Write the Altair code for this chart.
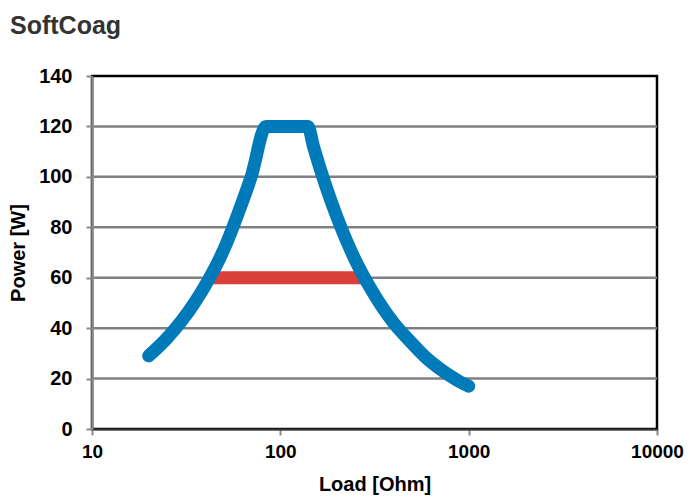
import altair as alt
import pandas as pd

# Blue power curve (Load in Ohm, Power in W)
load = [20, 25, 30, 35, 40, 50, 60, 70, 84, 140, 150, 175, 200, 250, 300, 400, 500, 600, 700, 800, 900, 1000]
power = [29, 36, 43, 50, 57, 71, 86, 100, 120, 120, 112, 96, 84, 67, 56, 42, 34, 28, 24, 21, 18.7, 17]

# Red horizontal segment
red_load = [42, 285]
red_power = [60, 60]

grid_values = [20, 40, 60, 80, 100, 120]
x_ticks = [10, 100, 1000, 10000]
y_ticks = [0, 20, 40, 60, 80, 100, 120, 140]

FONT = "Liberation Sans"

blue_df = pd.DataFrame({"load": load, "power": power, "order": list(range(len(load)))})
red_df = pd.DataFrame({"load": red_load, "power": red_power})
grid_df = pd.DataFrame({"v": grid_values})

xscale = alt.Scale(type="log", domain=[10, 10000])
yscale = alt.Scale(domain=[0, 140])

xaxis = alt.Axis(values=x_ticks, format="d", title="Load [Ohm]", grid=False, labelFlush=False,
                 labelFontSize=19,
                 domainColor="#333333", domainWidth=2, tickColor="#888888", tickWidth=2,
                 tickSize=6, labelPadding=7, titlePadding=13, zindex=1)
yaxis = alt.Axis(values=y_ticks, title="Power [W]", grid=False, labelFlush=False,
                 labelFontSize=20,
                 domainColor="#888888", domainWidth=2.5, tickColor="#888888", tickWidth=2,
                 tickSize=6, labelPadding=14, titlePadding=10, zindex=1)

grid = alt.Chart(grid_df).mark_rule(color="#808080", strokeWidth=2.5).encode(
    y=alt.Y("v:Q", scale=yscale, axis=yaxis)
)

red = alt.Chart(red_df).mark_line(color="#d9403a", strokeWidth=13, strokeCap="butt").encode(
    x=alt.X("load:Q", scale=xscale, axis=xaxis),
    y=alt.Y("power:Q", scale=yscale, axis=yaxis),
)

blue = alt.Chart(blue_df).mark_line(color="#007ab8", strokeWidth=13, strokeCap="round",
                                    strokeJoin="round", interpolate="monotone").encode(
    x=alt.X("load:Q", scale=xscale, axis=xaxis),
    y=alt.Y("power:Q", scale=yscale, axis=yaxis),
    order="order:Q",
)

chart = alt.layer(grid, red, blue).properties(
    width=565,
    height=353,
    autosize="none",
    padding={"left": 84, "top": 68, "right": 27, "bottom": 70},
    title=alt.TitleParams(text="SoftCoag", anchor="start", frame="group", dx=-82,
                          offset=7, baseline="alphabetic", fontSize=25, font=FONT,
                          fontWeight="bold", color="#333333"),
).configure_view(
    stroke="#000000", strokeWidth=2.5
).configure_axis(
    labelFont=FONT, labelFontWeight="bold", labelColor="#000000",
    titleFont=FONT, titleFontSize=20, titleFontWeight="bold", titleColor="#000000",
)

chart.save("out.html", embed_options={"renderer": "svg", "actions": False})
